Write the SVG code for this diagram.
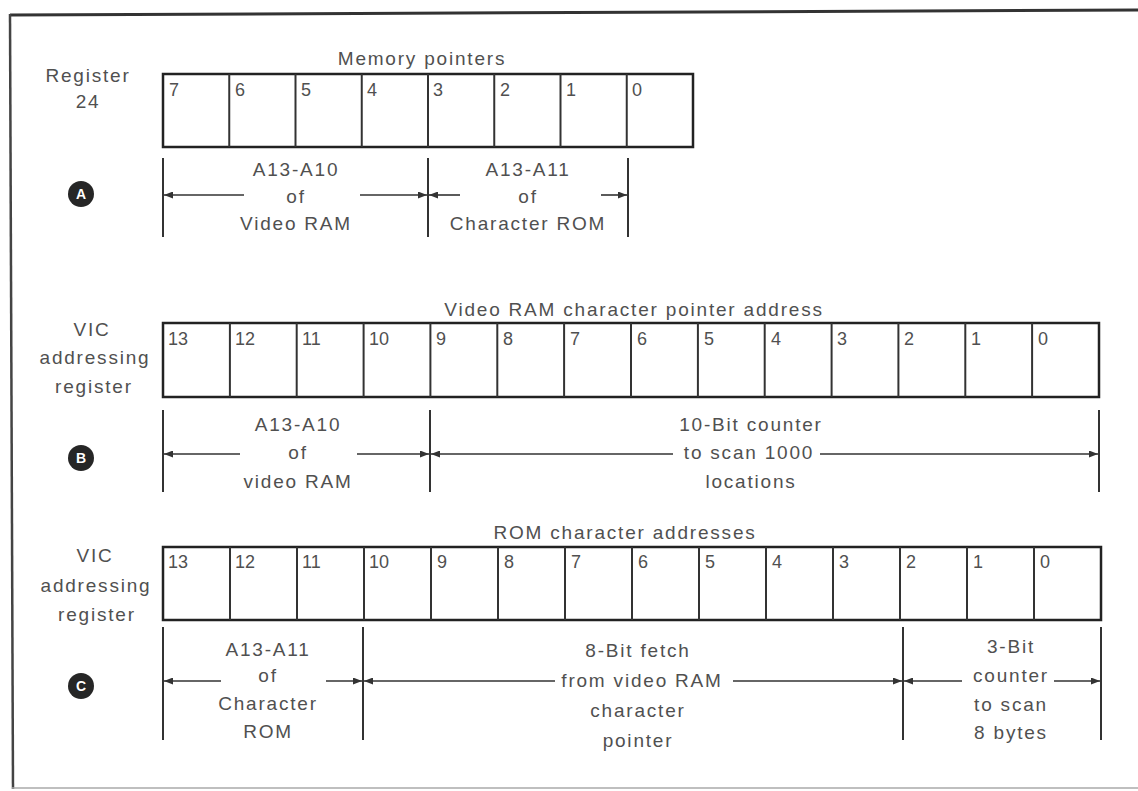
<svg xmlns="http://www.w3.org/2000/svg" width="1138" height="791" viewBox="0 0 1138 791">
<style>
.t{font-family:"Liberation Sans",Arial,sans-serif;font-size:19px;fill:#505050;letter-spacing:1.8px;text-anchor:middle}
.n{font-family:"Liberation Sans",Arial,sans-serif;font-size:18px;fill:#505050;text-anchor:start}
.cell{fill:#fff;stroke:#2b2b2b;stroke-width:2}
.box{fill:none;stroke:#222;stroke-width:2.5}
.tick{stroke:#333;stroke-width:2;fill:none}
.arr{stroke:#333;stroke-width:1.6;fill:none;marker-end:url(#ah)}
.badge{fill:#262626}
.bl{font-family:"Liberation Sans",Arial,sans-serif;font-size:14px;font-weight:bold;fill:#fff;text-anchor:middle}
</style>
<defs>
<marker id="ah" viewBox="0 0 10 10" refX="10" refY="5" markerWidth="9" markerHeight="7" markerUnits="userSpaceOnUse" orient="auto" preserveAspectRatio="none">
<path d="M0,0 L10,5 L0,10 Z" fill="#333"/>
</marker>
</defs>
<rect width="1138" height="791" fill="#fff"/>
<g id="frame">
<line x1="10" y1="15" x2="1138" y2="10" stroke="#333" stroke-width="3"/>
<line x1="10" y1="14" x2="13" y2="789" stroke="#444" stroke-width="2.5"/>
<line x1="12" y1="788" x2="1138" y2="788" stroke="#aaa" stroke-width="1.5"/>
</g>

<g id="regA">
<text class="t" x="422" y="65">Memory pointers</text>
<text class="t" x="88" y="82">Register</text>
<text class="t" x="88" y="108">24</text>
<rect class="box" x="163" y="74" width="530" height="73"/>
<g class="tick">
<line x1="229.25" y1="74" x2="229.25" y2="147"/><line x1="295.5" y1="74" x2="295.5" y2="147"/><line x1="361.75" y1="74" x2="361.75" y2="147"/><line x1="428" y1="74" x2="428" y2="147"/><line x1="494.25" y1="74" x2="494.25" y2="147"/><line x1="560.5" y1="74" x2="560.5" y2="147"/><line x1="626.75" y1="74" x2="626.75" y2="147"/>
</g>
<text class="n" x="169" y="96">7</text><text class="n" x="235" y="96">6</text><text class="n" x="301" y="96">5</text><text class="n" x="367" y="96">4</text><text class="n" x="433" y="96">3</text><text class="n" x="500" y="96">2</text><text class="n" x="566" y="96">1</text><text class="n" x="632" y="96">0</text>
</g>

<g id="badgeA"><circle class="badge" cx="81" cy="194" r="13"/><text class="bl" x="81" y="199">A</text></g>

<g id="labelsA">
<text class="t" x="296" y="176">A13-A10</text>
<text class="t" x="296" y="203">of</text>
<text class="t" x="296" y="230">Video RAM</text>
<text class="t" x="528" y="176">A13-A11</text>
<text class="t" x="528" y="203">of</text>
<text class="t" x="528" y="230">Character ROM</text>
</g>

<g id="regB">
<text class="t" x="634" y="316">Video RAM character pointer address</text>
<text class="t" x="92" y="336">VIC</text>
<text class="t" x="95" y="364">addressing</text>
<text class="t" x="94" y="393">register</text>
<rect class="box" x="163" y="323" width="936" height="74"/>
<g class="tick">
<line x1="229.9" y1="323" x2="229.9" y2="397"/><line x1="296.7" y1="323" x2="296.7" y2="397"/><line x1="363.6" y1="323" x2="363.6" y2="397"/><line x1="430.4" y1="323" x2="430.4" y2="397"/><line x1="497.3" y1="323" x2="497.3" y2="397"/><line x1="564.1" y1="323" x2="564.1" y2="397"/><line x1="631" y1="323" x2="631" y2="397"/><line x1="697.9" y1="323" x2="697.9" y2="397"/><line x1="764.7" y1="323" x2="764.7" y2="397"/><line x1="831.6" y1="323" x2="831.6" y2="397"/><line x1="898.4" y1="323" x2="898.4" y2="397"/><line x1="965.3" y1="323" x2="965.3" y2="397"/><line x1="1032.1" y1="323" x2="1032.1" y2="397"/>
</g>
<text class="n" x="168" y="345">13</text><text class="n" x="235" y="345">12</text><text class="n" x="302" y="345">11</text><text class="n" x="369" y="345">10</text><text class="n" x="436" y="345">9</text><text class="n" x="503" y="345">8</text><text class="n" x="570" y="345">7</text><text class="n" x="637" y="345">6</text><text class="n" x="704" y="345">5</text><text class="n" x="771" y="345">4</text><text class="n" x="837" y="345">3</text><text class="n" x="904" y="345">2</text><text class="n" x="971" y="345">1</text><text class="n" x="1038" y="345">0</text>
</g>

<g id="badgeB"><circle class="badge" cx="81" cy="458" r="13"/><text class="bl" x="81" y="463">B</text></g>

<g id="labelsB">
<text class="t" x="298" y="431">A13-A10</text>
<text class="t" x="298" y="459">of</text>
<text class="t" x="298" y="488">video RAM</text>
<text class="t" x="751" y="431">10-Bit counter</text>
<text class="t" x="749" y="459">to scan 1000</text>
<text class="t" x="751" y="488">locations</text>
</g>

<g id="regC">
<text class="t" x="625" y="539">ROM character addresses</text>
<text class="t" x="95" y="562">VIC</text>
<text class="t" x="96" y="592">addressing</text>
<text class="t" x="97" y="621">register</text>
<rect class="box" x="163" y="547" width="938" height="73"/>
<g class="tick">
<line x1="230" y1="547" x2="230" y2="620"/><line x1="297" y1="547" x2="297" y2="620"/><line x1="364" y1="547" x2="364" y2="620"/><line x1="431" y1="547" x2="431" y2="620"/><line x1="498" y1="547" x2="498" y2="620"/><line x1="565" y1="547" x2="565" y2="620"/><line x1="632" y1="547" x2="632" y2="620"/><line x1="699" y1="547" x2="699" y2="620"/><line x1="766" y1="547" x2="766" y2="620"/><line x1="833" y1="547" x2="833" y2="620"/><line x1="900" y1="547" x2="900" y2="620"/><line x1="967" y1="547" x2="967" y2="620"/><line x1="1034" y1="547" x2="1034" y2="620"/>
</g>
<text class="n" x="168" y="568">13</text><text class="n" x="235" y="568">12</text><text class="n" x="302" y="568">11</text><text class="n" x="369" y="568">10</text><text class="n" x="437" y="568">9</text><text class="n" x="504" y="568">8</text><text class="n" x="571" y="568">7</text><text class="n" x="638" y="568">6</text><text class="n" x="705" y="568">5</text><text class="n" x="772" y="568">4</text><text class="n" x="839" y="568">3</text><text class="n" x="906" y="568">2</text><text class="n" x="973" y="568">1</text><text class="n" x="1040" y="568">0</text>
</g>

<g id="badgeC"><circle class="badge" cx="81" cy="686" r="13"/><text class="bl" x="81" y="691">C</text></g>

<g id="labelsC">
<text class="t" x="268" y="656">A13-A11</text>
<text class="t" x="268" y="682">of</text>
<text class="t" x="268" y="710">Character</text>
<text class="t" x="268" y="738">ROM</text>
<text class="t" x="638" y="657">8-Bit fetch</text>
<text class="t" x="642" y="687">from video RAM</text>
<text class="t" x="638" y="717">character</text>
<text class="t" x="638" y="747">pointer</text>
<text class="t" x="1011" y="653">3-Bit</text>
<text class="t" x="1011" y="682">counter</text>
<text class="t" x="1011" y="711">to scan</text>
<text class="t" x="1011" y="739">8 bytes</text>
</g>

<g id="connectors">
<g class="tick">
<line x1="163" y1="158" x2="163" y2="237"/><line x1="428" y1="158" x2="428" y2="237"/><line x1="628" y1="158" x2="628" y2="237"/>
<line x1="163" y1="410" x2="163" y2="492"/><line x1="430" y1="410" x2="430" y2="492"/><line x1="1099" y1="410" x2="1099" y2="492"/>
<line x1="163" y1="627" x2="163" y2="740"/><line x1="363" y1="627" x2="363" y2="740"/><line x1="903" y1="627" x2="903" y2="740"/><line x1="1101" y1="627" x2="1101" y2="740"/>
</g>
<line class="arr" x1="244" y1="195" x2="164" y2="195"/>
<line class="arr" x1="360" y1="195" x2="427" y2="195"/>
<line class="arr" x1="460" y1="195" x2="429" y2="195"/>
<line class="arr" x1="601" y1="195" x2="627" y2="195"/>
<line class="arr" x1="240" y1="454" x2="164" y2="454"/>
<line class="arr" x1="357" y1="454" x2="429" y2="454"/>
<line class="arr" x1="673" y1="454" x2="431" y2="454"/>
<line class="arr" x1="820" y1="454" x2="1098" y2="454"/>
<line class="arr" x1="221" y1="681" x2="164" y2="681"/>
<line class="arr" x1="326" y1="681" x2="362" y2="681"/>
<line class="arr" x1="555" y1="681" x2="364" y2="681"/>
<line class="arr" x1="733" y1="681" x2="902" y2="681"/>
<line class="arr" x1="962" y1="681" x2="904" y2="681"/>
<line class="arr" x1="1054" y1="681" x2="1100" y2="681"/>
</g>
</svg>
